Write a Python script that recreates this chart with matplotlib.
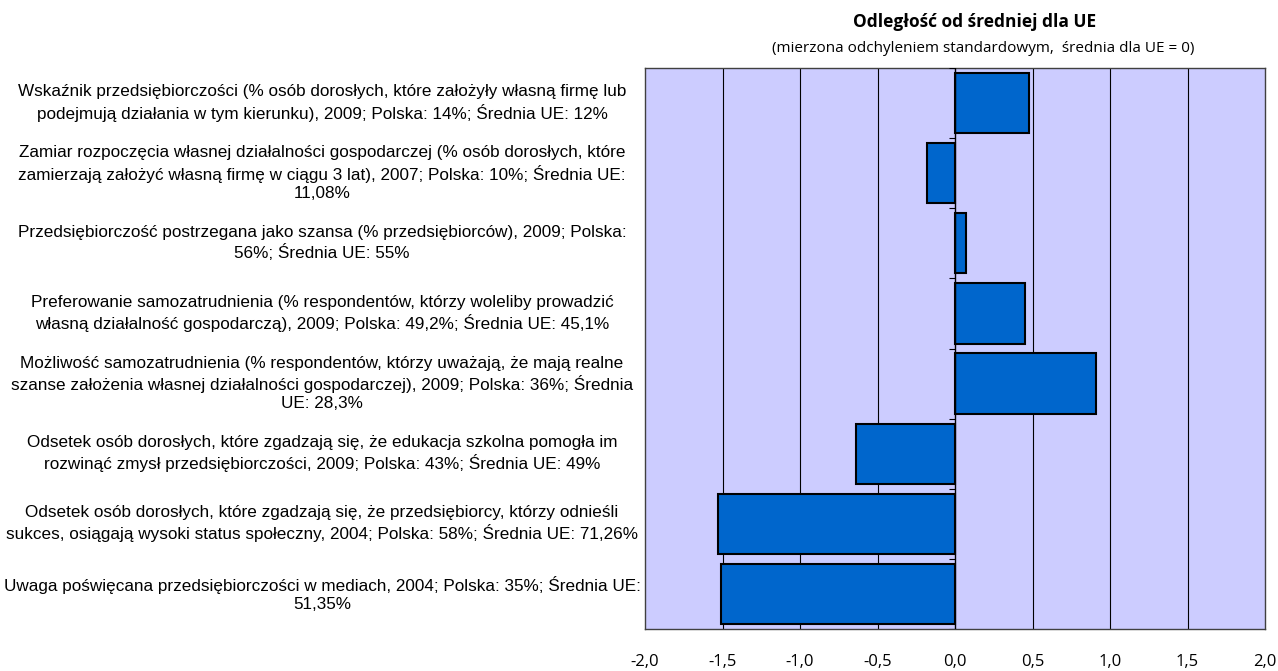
import numpy as np
import matplotlib.pyplot as plt
import matplotlib.transforms as mtransforms

# labels (top to bottom) and distances from the EU mean (in std. dev.)
labels = [
    "Wskaźnik przedsiębiorczości (% osób dorosłych, które założyły własną firmę lub\n"
    "podejmują działania w tym kierunku), 2009; Polska: 14%; Średnia UE: 12%",
    "Zamiar rozpoczęcia własnej działalności gospodarczej (% osób dorosłych, które\n"
    "zamierzają założyć własną firmę w ciągu 3 lat), 2007; Polska: 10%; Średnia UE:\n11,08%",
    "Przedsiębiorczość postrzegana jako szansa (% przedsiębiorców), 2009; Polska:\n"
    "56%; Średnia UE: 55%",
    "Preferowanie samozatrudnienia (% respondentów, którzy woleliby prowadzić\n"
    "własną działalność gospodarczą), 2009; Polska: 49,2%; Średnia UE: 45,1%",
    "Możliwość samozatrudnienia (% respondentów, którzy uważają, że mają realne\n"
    "szanse założenia własnej działalności gospodarczej), 2009; Polska: 36%; Średnia\nUE: 28,3%",
    "Odsetek osób dorosłych, które zgadzają się, że edukacja szkolna pomogła im\n"
    "rozwinąć zmysł przedsiębiorczości, 2009; Polska: 43%; Średnia UE: 49%",
    "Odsetek osób dorosłych, które zgadzają się, że przedsiębiorcy, którzy odnieśli\n"
    "sukces, osiągają wysoki status społeczny, 2004; Polska: 58%; Średnia UE: 71,26%",
    "Uwaga poświęcana przedsiębiorczości w mediach, 2004; Polska: 35%; Średnia UE:\n51,35%",
]
values = [0.48, -0.18, 0.07, 0.45, 0.91, -0.64, -1.53, -1.51]

xticks = [-2.0, -1.5, -1.0, -0.5, 0.0, 0.5, 1.0, 1.5, 2.0]
xtick_labels = ["-2,0", "-1,5", "-1,0", "-0,5", "0,0", "0,5", "1,0", "1,5", "2,0"]

fig = plt.figure(figsize=(12.78, 6.71), dpi=100)
ax = fig.add_axes([645/1278, 1 - 629/671, 620/1278, 561/671])
ax.set_facecolor('#CCCCFF')

y = np.arange(len(values))
ax.barh(y, values, height=0.86, color='#0066CC', edgecolor='black', linewidth=1.5, zorder=3)

ax.set_xlim(-2, 2)
ax.set_ylim(len(values) - 0.5, -0.5)

# vertical grid lines
for g in xticks[1:-1]:
    if g != 0:
        ax.axvline(g, color='black', lw=0.8, zorder=1)
ax.axvline(0, color='black', lw=1.0, zorder=4)
# small ticks on the zero axis between categories
ax.hlines(np.arange(-0.5, len(values)), -0.04, 0, color='black', lw=0.8, zorder=4)

for s in ax.spines.values():
    s.set_color('#404040')
    s.set_linewidth(1.0)

ax.set_yticks([])
ax.set_xticks(xticks)
ax.set_xticklabels(xtick_labels, fontsize=12, family=['Open Sans', 'DejaVu Sans'])
ax.tick_params(axis='x', length=0, pad=18)

# category labels, centred left of the plot
trans = mtransforms.blended_transform_factory(ax.transAxes, ax.transData)
for yi, lab in zip(y, labels):
    ax.text(-0.521, yi, lab, transform=trans, ha='center', va='center',
            multialignment='center', fontsize=12.3, linespacing=1.28,
            family=['Liberation Sans Narrow', 'Liberation Sans', 'DejaVu Sans'])

fig.text(975/1278, 1 - 22/671, "Odległość od średniej dla UE", ha='center', va='center',
         fontsize=12.5, fontweight='bold', family=['Open Sans', 'DejaVu Sans'])
fig.text(983/1278, 1 - 49/671, "(mierzona odchyleniem standardowym,  średnia dla UE = 0)",
         ha='center', va='center', fontsize=11, family=['Open Sans', 'DejaVu Sans'])

fig.savefig('out.png', dpi=100)
